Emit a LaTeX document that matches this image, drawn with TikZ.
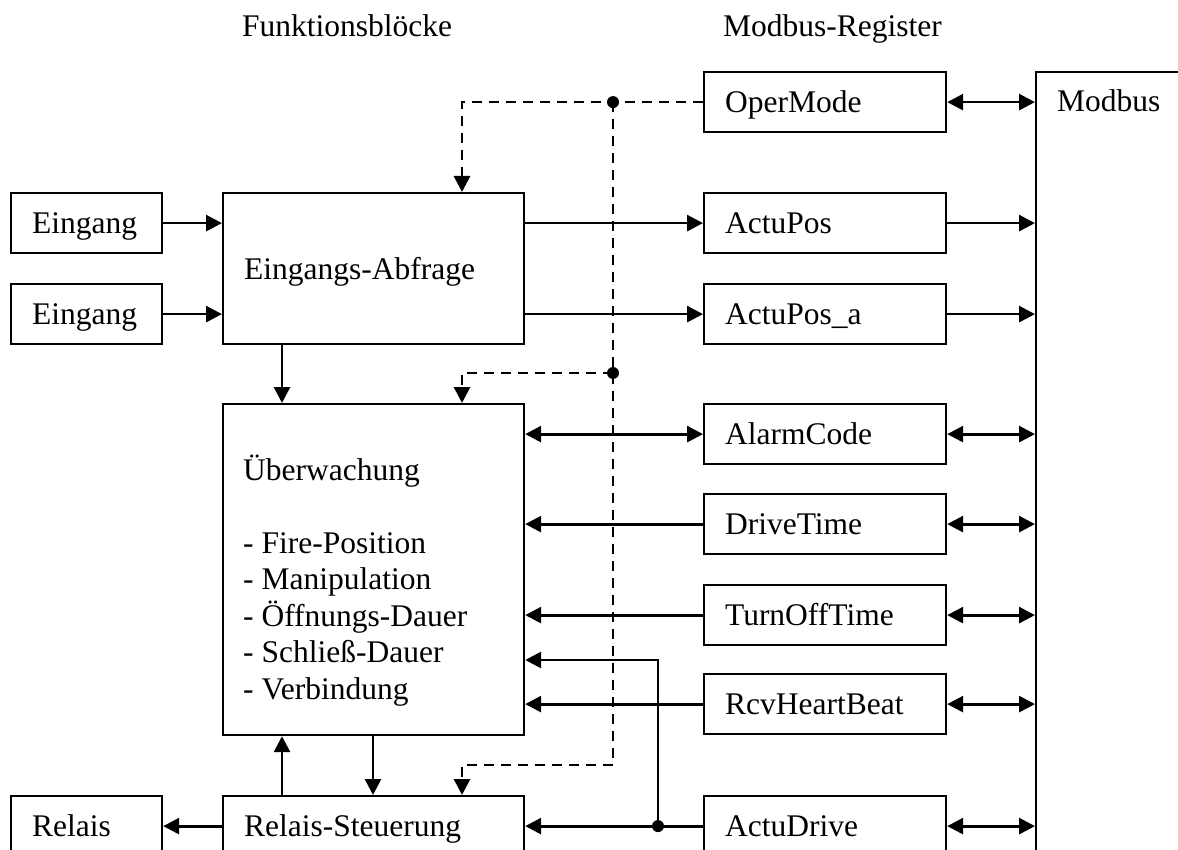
\documentclass[tikz,border=0pt]{standalone}
\usepackage{fontspec}
\setmainfont{Liberation Serif}
\usetikzlibrary{arrows.meta}
\begin{document}
\begin{tikzpicture}[x=1pt,y=-1pt,
  every node/.style={font=\fontsize{31.5}{36.5}\selectfont},
  >={Triangle[length=16pt,width=16pt]},
  box/.style={draw, line width=2.2pt, anchor=north west, inner xsep=21pt, inner ysep=0pt,
    align=left, minimum height=60pt, text height=22.5pt, text depth=1.5pt},
  regbox/.style={box, text width=200pt},
  inbox/.style={box, text width=109pt},
  fbox/.style={box, text width=259pt},
  arr/.style={line width=2.8pt},
  dsh/.style={line width=2.8pt, dash pattern=on 10pt off 7pt},
  dot/.style={circle, fill=black, inner sep=0pt, minimum size=12pt},
  plain/.style={anchor=base west, inner sep=0pt}
]
\useasboundingbox (0,0) rectangle (1178,850);
\clip (0,0) rectangle (1178,850);

% headings
\node[plain] (h1) at (242,37) {Funktionsblöcke};
\node[plain] (h2) at (723,37) {Modbus-Register};

% left column
\node[inbox] (e1) at (10,192) {Eingang};
\node[inbox] (e2) at (10,283) {Eingang};
\node[inbox] (rel) at (10,795) {Relais};

% function blocks
\node[fbox, minimum height=151pt] (abf) at (222,192) {Eingangs-Abfrage};
\node[fbox, minimum height=331pt] (ueb) at (222,403) {};
\node[plain] (uebtxt) at (243,480) {\begin{tabular}[t]{@{}l@{}}Überwachung\\ \\
- Fire-Position\\ - Manipulation\\ - Öffnungs-Dauer\\ - Schließ-Dauer\\ - Verbindung\end{tabular}};
\node[fbox] (rs) at (222,795) {Relais-Steuerung};

% registers
\node[regbox] (om) at (703,71) {OperMode};
\node[regbox] (ap) at (703,192) {ActuPos};
\node[regbox] (apa) at (703,283) {ActuPos\_a};
\node[regbox] (ac) at (703,403) {AlarmCode};
\node[regbox] (dt) at (703,493) {DriveTime};
\node[regbox] (tot) at (703,584) {TurnOffTime};
\node[regbox] (rcv) at (703,673) {RcvHeartBeat};
\node[regbox] (ad) at (703,795) {ActuDrive};

% Modbus
\node[draw, line width=2.2pt, anchor=north west, minimum width=250pt, minimum height=850pt, inner sep=0pt] (mb) at (1035,71) {};
\node[plain] (mbtxt) at (1057,112) {Modbus};

% inputs
\draw[arr,->] (e1.east) -- (e1.east -| abf.west);
\draw[arr,->] (e2.east) -- (e2.east -| abf.west);
\draw[arr,->] ([xshift=60pt]abf.south west) -- ([xshift=60pt]ueb.north west);
\draw[arr,->] ([xshift=60pt]rs.north west) -- ([xshift=60pt]ueb.south west);
\draw[arr,->] ([xshift=151pt]ueb.south west) -- ([xshift=151pt]rs.north west);
\draw[arr,->] (rs.west) -- (rs.west -| rel.east);

% function blocks <-> registers
\draw[arr,->] (ap.west -| abf.east) -- (ap.west);
\draw[arr,->] (apa.west -| abf.east) -- (apa.west);
\draw[arr,<->] (ac.west -| ueb.east) -- (ac.west);
\draw[arr,->] (dt.west) -- (dt.west -| ueb.east);
\draw[arr,->] (tot.west) -- (tot.west -| ueb.east);
\draw[arr,->] (rcv.west) -- (rcv.west -| ueb.east);
\coordinate (j) at ([xshift=-45pt]ad.west);
\draw[arr,->] (ad.west) -- (ad.west -| rs.east);
\draw[arr,->] (j) |- (ueb.east |- 0,660);
\node[dot] (jdot) at (j) {};

% registers <-> Modbus
\draw[arr,<->] (om.east) -- (om.east -| mb.west);
\draw[arr,->] (ap.east) -- (ap.east -| mb.west);
\draw[arr,->] (apa.east) -- (apa.east -| mb.west);
\draw[arr,<->] (ac.east) -- (ac.east -| mb.west);
\draw[arr,<->] (dt.east) -- (dt.east -| mb.west);
\draw[arr,<->] (tot.east) -- (tot.east -| mb.west);
\draw[arr,<->] (rcv.east) -- (rcv.east -| mb.west);
\draw[arr,<->] (ad.east) -- (ad.east -| mb.west);

% dashed OperMode distribution
\coordinate (d1) at ([xshift=-90pt]om.west);
\coordinate (d2) at (d1 |- 0,373);
\coordinate (d3) at (d1 |- 0,765);
\draw[dsh,->] (om.west) -| ([xshift=240pt]abf.north west);
\draw[dsh] (d1) -- (d3);
\draw[dsh,->] (d2) -| ([xshift=240pt]ueb.north west);
\draw[dsh,->] (d3) -| ([xshift=240pt]rs.north west);
\node[dot] (d1dot) at (d1) {};
\node[dot] (d2dot) at (d2) {};
\end{tikzpicture}
\end{document}
